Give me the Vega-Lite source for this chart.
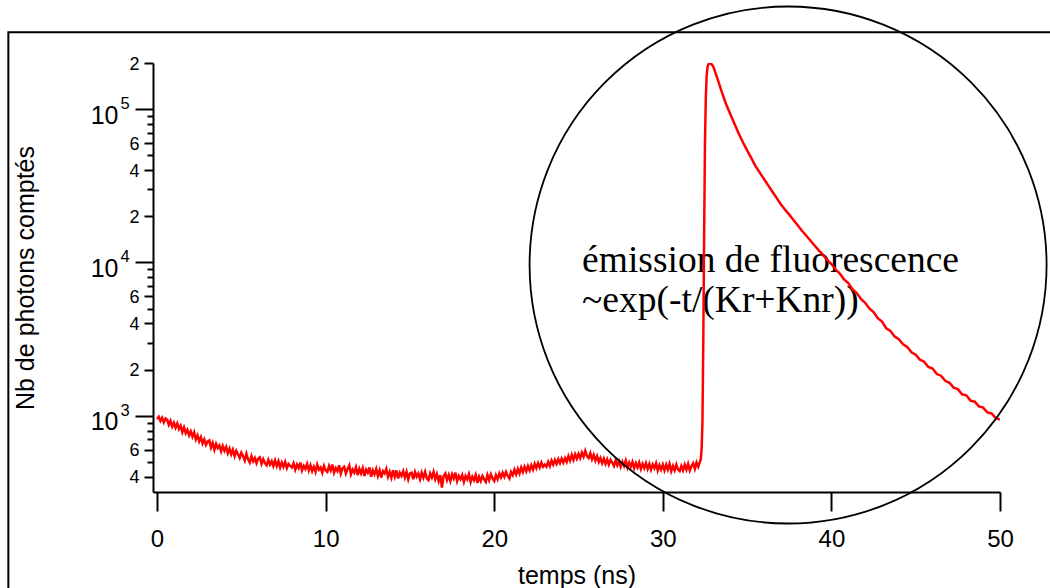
{
  "$schema": "https://vega.github.io/schema/vega-lite/v6.json",
  "width": 847,
  "height": 429,
  "autosize": {"type": "none"},
  "padding": {"left": 153, "top": 63, "right": 50, "bottom": 96},
  "background": "white",
  "datasets": {
    "decay": [
      {"t":0.0,"n":950},{"t":0.1,"n":985},{"t":0.2,"n":925},{"t":0.3,"n":970},{"t":0.4,"n":905},{"t":0.5,"n":960},{"t":0.6,"n":940},{"t":0.7,"n":870},{"t":0.8,"n":925},{"t":0.9,"n":850},{"t":1.0,"n":900},
      {"t":1.1,"n":835},{"t":1.2,"n":890},{"t":1.3,"n":820},{"t":1.4,"n":860},{"t":1.5,"n":780},{"t":1.6,"n":840},{"t":1.7,"n":770},{"t":1.8,"n":810},{"t":1.9,"n":745},{"t":2.0,"n":790},
      {"t":2.1,"n":730},{"t":2.2,"n":780},{"t":2.3,"n":700},{"t":2.4,"n":745},{"t":2.5,"n":680},{"t":2.6,"n":725},{"t":2.7,"n":660},{"t":2.8,"n":700},{"t":2.9,"n":645},{"t":3.0,"n":680},
      {"t":3.1,"n":690},{"t":3.2,"n":620},{"t":3.3,"n":665},{"t":3.4,"n":600},{"t":3.5,"n":655},{"t":3.6,"n":615},{"t":3.7,"n":640},{"t":3.8,"n":585},{"t":3.9,"n":635},{"t":4.0,"n":590},
      {"t":4.1,"n":625},{"t":4.2,"n":570},{"t":4.3,"n":610},{"t":4.4,"n":560},{"t":4.5,"n":600},{"t":4.6,"n":545},{"t":4.7,"n":590},{"t":4.8,"n":560},{"t":4.9,"n":530},{"t":5.0,"n":575},
      {"t":5.1,"n":545},{"t":5.2,"n":510},{"t":5.3,"n":565},{"t":5.4,"n":520},{"t":5.5,"n":495},{"t":5.6,"n":545},{"t":5.7,"n":505},{"t":5.8,"n":530},{"t":5.9,"n":490},{"t":6.0,"n":525},
      {"t":6.1,"n":535},{"t":6.2,"n":485},{"t":6.3,"n":520},{"t":6.4,"n":490},{"t":6.5,"n":475},{"t":6.6,"n":515},{"t":6.7,"n":480},{"t":6.8,"n":505},{"t":6.9,"n":470},{"t":7.0,"n":510},
      {"t":7.1,"n":470},{"t":7.2,"n":505},{"t":7.3,"n":460},{"t":7.4,"n":495},{"t":7.5,"n":465},{"t":7.6,"n":500},{"t":7.7,"n":455},{"t":7.8,"n":485},{"t":7.9,"n":470},{"t":8.0,"n":460},
      {"t":8.1,"n":490},{"t":8.2,"n":445},{"t":8.3,"n":480},{"t":8.4,"n":455},{"t":8.5,"n":495},{"t":8.6,"n":440},{"t":8.7,"n":470},{"t":8.8,"n":450},{"t":8.9,"n":485},{"t":9.0,"n":440},
      {"t":9.1,"n":475},{"t":9.2,"n":435},{"t":9.3,"n":465},{"t":9.4,"n":430},{"t":9.5,"n":480},{"t":9.6,"n":445},{"t":9.7,"n":460},{"t":9.8,"n":425},{"t":9.9,"n":470},{"t":10.0,"n":440},
      {"t":10.1,"n":430},{"t":10.2,"n":470},{"t":10.3,"n":440},{"t":10.4,"n":480},{"t":10.5,"n":425},{"t":10.6,"n":455},{"t":10.7,"n":435},{"t":10.8,"n":475},{"t":10.9,"n":420},{"t":11.0,"n":455},
      {"t":11.1,"n":465},{"t":11.2,"n":420},{"t":11.3,"n":450},{"t":11.4,"n":475},{"t":11.5,"n":415},{"t":11.6,"n":445},{"t":11.7,"n":425},{"t":11.8,"n":460},{"t":11.9,"n":410},{"t":12.0,"n":450},
      {"t":12.1,"n":420},{"t":12.2,"n":455},{"t":12.3,"n":405},{"t":12.4,"n":445},{"t":12.5,"n":425},{"t":12.6,"n":460},{"t":12.7,"n":400},{"t":12.8,"n":440},{"t":12.9,"n":415},{"t":13.0,"n":450},
      {"t":13.1,"n":405},{"t":13.2,"n":440},{"t":13.3,"n":395},{"t":13.4,"n":435},{"t":13.5,"n":420},{"t":13.6,"n":450},{"t":13.7,"n":400},{"t":13.8,"n":430},{"t":13.9,"n":395},{"t":14.0,"n":440},
      {"t":14.1,"n":400},{"t":14.2,"n":440},{"t":14.3,"n":390},{"t":14.4,"n":425},{"t":14.5,"n":405},{"t":14.6,"n":435},{"t":14.7,"n":395},{"t":14.8,"n":430},{"t":14.9,"n":385},{"t":15.0,"n":420},
      {"t":15.1,"n":425},{"t":15.2,"n":385},{"t":15.3,"n":430},{"t":15.4,"n":400},{"t":15.5,"n":420},{"t":15.6,"n":385},{"t":15.7,"n":425},{"t":15.8,"n":395},{"t":15.9,"n":430},{"t":16.0,"n":390},
      {"t":16.1,"n":380},{"t":16.2,"n":420},{"t":16.3,"n":395},{"t":16.4,"n":430},{"t":16.5,"n":385},{"t":16.6,"n":415},{"t":16.7,"n":375},{"t":16.8,"n":410},{"t":16.9,"n":340},{"t":17.0,"n":405},
      {"t":17.1,"n":420},{"t":17.2,"n":380},{"t":17.3,"n":410},{"t":17.4,"n":375},{"t":17.5,"n":415},{"t":17.6,"n":390},{"t":17.7,"n":425},{"t":17.8,"n":375},{"t":17.9,"n":405},{"t":18.0,"n":385},
      {"t":18.1,"n":410},{"t":18.2,"n":370},{"t":18.3,"n":405},{"t":18.4,"n":385},{"t":18.5,"n":415},{"t":18.6,"n":370},{"t":18.7,"n":400},{"t":18.8,"n":380},{"t":18.9,"n":410},{"t":19.0,"n":365},
      {"t":19.1,"n":400},{"t":19.2,"n":375},{"t":19.3,"n":405},{"t":19.4,"n":385},{"t":19.5,"n":370},{"t":19.6,"n":410},{"t":19.7,"n":380},{"t":19.8,"n":415},{"t":19.9,"n":390},{"t":20.0,"n":375},
      {"t":20.1,"n":410},{"t":20.2,"n":385},{"t":20.3,"n":420},{"t":20.4,"n":395},{"t":20.5,"n":425},{"t":20.6,"n":400},{"t":20.7,"n":430},{"t":20.8,"n":405},{"t":20.9,"n":390},{"t":21.0,"n":430},
      {"t":21.1,"n":410},{"t":21.2,"n":445},{"t":21.3,"n":415},{"t":21.4,"n":450},{"t":21.5,"n":420},{"t":21.6,"n":460},{"t":21.7,"n":430},{"t":21.8,"n":465},{"t":21.9,"n":435},{"t":22.0,"n":470},
      {"t":22.1,"n":440},{"t":22.2,"n":475},{"t":22.3,"n":445},{"t":22.4,"n":485},{"t":22.5,"n":455},{"t":22.6,"n":490},{"t":22.7,"n":460},{"t":22.8,"n":495},{"t":22.9,"n":465},{"t":23.0,"n":480},
      {"t":23.1,"n":465},{"t":23.2,"n":500},{"t":23.3,"n":470},{"t":23.4,"n":510},{"t":23.5,"n":480},{"t":23.6,"n":515},{"t":23.7,"n":485},{"t":23.8,"n":520},{"t":23.9,"n":490},{"t":24.0,"n":525},
      {"t":24.1,"n":495},{"t":24.2,"n":530},{"t":24.3,"n":500},{"t":24.4,"n":545},{"t":24.5,"n":510},{"t":24.6,"n":555},{"t":24.7,"n":515},{"t":24.8,"n":560},{"t":24.9,"n":525},{"t":25.0,"n":565},
      {"t":25.1,"n":530},{"t":25.2,"n":575},{"t":25.3,"n":540},{"t":25.4,"n":590},{"t":25.5,"n":545},{"t":25.6,"n":530},{"t":25.7,"n":570},{"t":25.8,"n":520},{"t":25.9,"n":555},{"t":26.0,"n":510},
      {"t":26.1,"n":545},{"t":26.2,"n":500},{"t":26.3,"n":530},{"t":26.4,"n":490},{"t":26.5,"n":525},{"t":26.6,"n":485},{"t":26.7,"n":520},{"t":26.8,"n":480},{"t":26.9,"n":515},{"t":27.0,"n":495},
      {"t":27.1,"n":470},{"t":27.2,"n":510},{"t":27.3,"n":475},{"t":27.4,"n":505},{"t":27.5,"n":465},{"t":27.6,"n":500},{"t":27.7,"n":470},{"t":27.8,"n":510},{"t":27.9,"n":460},{"t":28.0,"n":495},
      {"t":28.1,"n":465},{"t":28.2,"n":500},{"t":28.3,"n":455},{"t":28.4,"n":490},{"t":28.5,"n":460},{"t":28.6,"n":495},{"t":28.7,"n":450},{"t":28.8,"n":485},{"t":28.9,"n":455},{"t":29.0,"n":490},
      {"t":29.1,"n":450},{"t":29.2,"n":485},{"t":29.3,"n":445},{"t":29.4,"n":480},{"t":29.5,"n":455},{"t":29.6,"n":490},{"t":29.7,"n":440},{"t":29.8,"n":475},{"t":29.9,"n":445},{"t":30.0,"n":480},
      {"t":30.1,"n":440},{"t":30.2,"n":480},{"t":30.3,"n":445},{"t":30.4,"n":485},{"t":30.5,"n":435},{"t":30.6,"n":470},{"t":30.7,"n":440},{"t":30.8,"n":480},{"t":30.9,"n":445},{"t":31.0,"n":435},
      {"t":31.1,"n":470},{"t":31.2,"n":440},{"t":31.3,"n":480},{"t":31.4,"n":445},{"t":31.5,"n":485},{"t":31.6,"n":440},{"t":31.7,"n":470},{"t":31.8,"n":490},{"t":31.9,"n":450},{"t":32.0,"n":495},
      {"t":32.1,"n":465},{"t":32.2,"n":500},
      {"t":32.25,"n":520},{"t":32.3,"n":600},{"t":32.35,"n":900},{"t":32.4,"n":3000},{"t":32.45,"n":15000},{"t":32.5,"n":60000},{"t":32.55,"n":120000},{"t":32.6,"n":165000},{"t":32.65,"n":188000},{"t":32.72,"n":198000},{"t":32.8,"n":200000},{"t":32.88,"n":197000},
      {"t":33.0,"n":189000},{"t":33.25,"n":157000},{"t":33.5,"n":129000},{"t":33.75,"n":108000},{"t":34.0,"n":92900},{"t":34.25,"n":80400},{"t":34.5,"n":69300},{"t":34.75,"n":60800},
      {"t":35.0,"n":53800},{"t":35.25,"n":47900},{"t":35.5,"n":42500},{"t":35.75,"n":38500},{"t":36.0,"n":35000},{"t":36.25,"n":31800},{"t":36.5,"n":28900},{"t":36.75,"n":26300},
      {"t":37.0,"n":24000},{"t":37.25,"n":22100},{"t":37.5,"n":20500},{"t":37.75,"n":18900},{"t":38.0,"n":17500},{"t":38.25,"n":16100},{"t":38.5,"n":15000},{"t":38.75,"n":13900},
      {"t":39.0,"n":12900},{"t":39.25,"n":12000},{"t":39.5,"n":11200},{"t":39.75,"n":10400},
      {"t":40.0,"n":9760},{"t":40.25,"n":8990},{"t":40.5,"n":8450},{"t":40.75,"n":7760},{"t":41.0,"n":7330},{"t":41.25,"n":6700},{"t":41.5,"n":6320},{"t":41.75,"n":5780},
      {"t":42.0,"n":5460},{"t":42.25,"n":5010},{"t":42.5,"n":4740},{"t":42.75,"n":4330},{"t":43.0,"n":4110},{"t":43.25,"n":3720},{"t":43.5,"n":3570},{"t":43.75,"n":3290},
      {"t":44.0,"n":3160},{"t":44.25,"n":2920},{"t":44.5,"n":2810},{"t":44.75,"n":2590},{"t":45.0,"n":2500},{"t":45.25,"n":2320},{"t":45.5,"n":2250},{"t":45.75,"n":2080},
      {"t":46.0,"n":2030},{"t":46.25,"n":1870},{"t":46.5,"n":1825},{"t":46.75,"n":1690},{"t":47.0,"n":1640},{"t":47.25,"n":1525},{"t":47.5,"n":1490},{"t":47.75,"n":1380},
      {"t":48.0,"n":1360},{"t":48.25,"n":1255},{"t":48.5,"n":1235},{"t":48.75,"n":1150},{"t":49.0,"n":1130},{"t":49.25,"n":1050},{"t":49.5,"n":1035},{"t":49.75,"n":965},{"t":50.0,"n":945}
    ],
    "exponents": [
      {"v": 1000, "e": "3"},
      {"v": 10000, "e": "4"},
      {"v": 100000, "e": "5"}
    ]
  },
  "layer": [
    {
      "data": {"values": [{"label": "frame"}]},
      "mark": {"type": "rect", "fill": "transparent", "stroke": "black", "strokeWidth": 2},
      "encoding": {
        "x": {"datum": -8.82, "type": "quantitative"},
        "x2": {"datum": 54},
        "y": {"datum": 318000, "type": "quantitative"},
        "y2": {"datum": 50}
      }
    },
    {
      "data": {"values": [{"label": "annotation"}]},
      "mark": {"type": "text", "text": ["émission de fluorescence", "~exp(-t/(Kr+Knr))"], "font": "Liberation Serif", "fontSize": 37.5, "lineHeight": 40, "align": "left", "baseline": "alphabetic", "color": "black"},
      "encoding": {
        "x": {"datum": 25.21, "type": "quantitative"},
        "y": {"datum": 8620, "type": "quantitative"}
      }
    },
    {
      "data": {"name": "exponents"},
      "mark": {"type": "text", "font": "Liberation Sans", "fontSize": 16.5, "align": "left", "baseline": "alphabetic", "color": "black"},
      "encoding": {
        "x": {"datum": -2.17, "type": "quantitative"},
        "y": {"field": "v", "type": "quantitative"},
        "text": {"field": "e", "type": "nominal"}
      }
    },
    {
      "data": {"name": "decay"},
      "mark": {"type": "line", "color": "#ff0000", "strokeWidth": 2.5, "clip": true},
      "encoding": {
        "x": {
          "field": "t", "type": "quantitative",
          "scale": {"domain": [-0.24, 50], "nice": false, "zero": false},
          "axis": {
            "values": [0, 10, 20, 30, 40, 50],
            "title": "temps (ns)",
            "tickSize": 19,
            "labelPadding": 16,
            "labelFontSize": 24,
            "titleFontSize": 25,
            "titlePadding": 12,
            "labelFlush": false,
            "labelOverlap": false,
            "grid": false
          }
        },
        "y": {
          "field": "n", "type": "quantitative",
          "scale": {"type": "log", "domain": [318, 200000], "nice": false},
          "axis": {
            "values": [400, 500, 600, 700, 800, 900, 1000, 2000, 3000, 4000, 5000, 6000, 7000, 8000, 9000, 10000, 20000, 30000, 40000, 50000, 60000, 70000, 80000, 90000, 100000, 200000],
            "labelExpr": "(datum.value==1000||datum.value==10000||datum.value==100000)?'10':indexof([400,600,2000,4000,6000,20000,40000,60000,200000],datum.value)>=0?format(datum.value/pow(10,floor(log(datum.value)/LN10+1e-9)),'d'):''",
            "tickSize": {"condition": [{"test": "datum.value==1000||datum.value==10000||datum.value==100000", "value": 18}, {"test": "indexof([400,600,2000,4000,6000,20000,40000,60000,200000],datum.value)>=0", "value": 9}], "value": 6},
            "labelPadding": {"condition": [{"test": "datum.value==1000||datum.value==10000||datum.value==100000", "value": 17}], "value": 5},
            "labelFontSize": {"condition": [{"test": "datum.value==1000||datum.value==10000||datum.value==100000", "value": 25}], "value": 18},
            "labelOffset": {"condition": [{"test": "datum.value==1000||datum.value==10000||datum.value==100000", "value": 6}], "value": 1},
            "title": "Nb de photons comptés",
            "titleFontSize": 25,
            "titleX": -120,
            "titleY": 214.5,
            "titleAngle": -90,
            "titleBaseline": "alphabetic",
            "titleAlign": "center",
            "labelFlush": false,
            "labelOverlap": false,
            "labelBound": false,
            "grid": false
          }
        }
      }
    },
    {
      "data": {"values": [{"label": "circle"}]},
      "mark": {"type": "point", "shape": "circle", "filled": false, "size": 267289, "stroke": "black", "strokeWidth": 1.8, "opacity": 1},
      "encoding": {
        "x": {"datum": 37.43, "type": "quantitative"},
        "y": {"datum": 9620, "type": "quantitative"}
      }
    }
  ],
  "config": {
    "view": {"stroke": null},
    "font": "Liberation Sans",
    "axis": {
      "domainColor": "black",
      "domainWidth": 2,
      "tickColor": "black",
      "tickWidth": 2,
      "labelColor": "black",
      "titleColor": "black",
      "labelFont": "Liberation Sans",
      "titleFont": "Liberation Sans",
      "titleFontWeight": "normal"
    }
  }
}
